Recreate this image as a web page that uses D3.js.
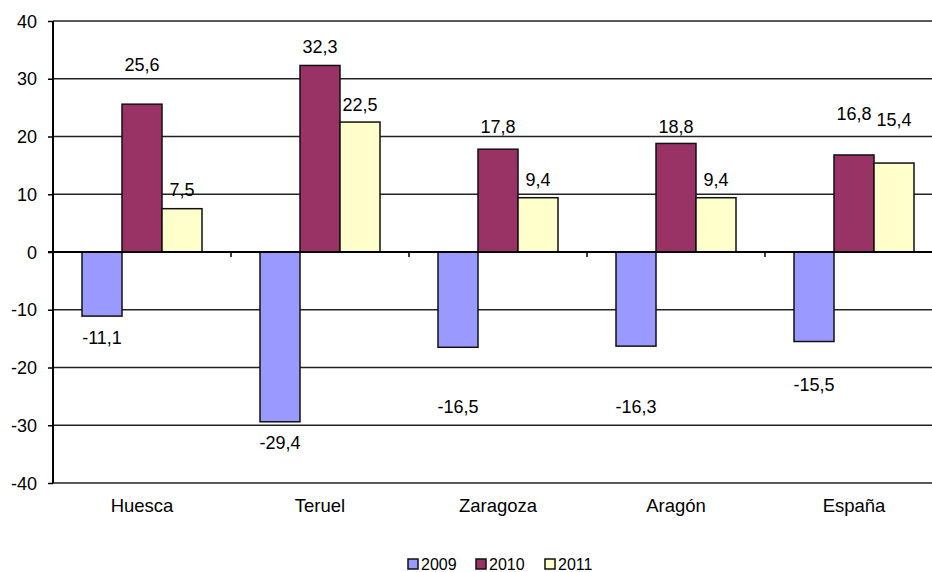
<!DOCTYPE html>
<html>
<head>
<meta charset="utf-8">
<script src="https://cdn.jsdelivr.net/npm/d3@7"></script>
<style>
  body { margin: 0; background: #fff; }
  svg text { font-family: "Liberation Sans", Arial, sans-serif; fill: #000; }
</style>
</head>
<body>
<svg id="chart" width="932" height="572"></svg>
<script>
const categories = ["Huesca", "Teruel", "Zaragoza", "Aragón", "España"];
const seriesNames = ["2009", "2010", "2011"];
const values2009 = [-11.1, -29.4, -16.5, -16.3, -15.5];
const values2010 = [25.6, 32.3, 17.8, 18.8, 16.8];
const values2011 = [7.5, 22.5, 9.4, 9.4, 15.4];
const yTicks = [-40, -30, -20, -10, 0, 10, 20, 30, 40];
const colors = ["#9999FF", "#993366", "#FFFFCC"];

// label nudges (px from bar end), as placed in the original
const labelDy = [
  [21, 21, 59, 60, 43],
  [-40, -19, -23, -17, -41],
  [-19, -18, -18, -18, -44]
];

const series = [values2009, values2010, values2011];

const margin = { top: 21, left: 53 };
const width = 890;
const height = 462;

const fmt = d3.formatLocale({ decimal: ",", thousands: ".", grouping: [3], currency: ["", "€"], minus: "-" }).format(".1f");

const svg = d3.select("#chart");
const g = svg.append("g").attr("transform", "translate(" + margin.left + "," + margin.top + ")");

const y = d3.scaleLinear().domain([-40, 40]).range([height, 0]);
const x0 = d3.scaleBand().domain(categories).range([0, width]).paddingInner(0).paddingOuter(0);
const x1 = d3.scaleBand().domain(seriesNames).range([29, x0.bandwidth() - 29]);

// gridlines
g.selectAll("line.grid")
  .data(yTicks.filter(t => t !== 0))
  .enter().append("line")
  .attr("x1", 0).attr("x2", width)
  .attr("y1", d => y(d)).attr("y2", d => y(d))
  .attr("stroke", "#222").attr("stroke-width", 1.4);

// y axis
const yAxis = g.append("g")
  .call(d3.axisLeft(y).tickValues(yTicks).tickSize(5).tickPadding(11).tickFormat(d => String(d)));
yAxis.select(".domain").attr("stroke", "#000").attr("stroke-width", 2).attr("d", "M0," + y(40) + "V" + y(-40));
yAxis.selectAll(".tick line").attr("stroke", "#000").attr("stroke-width", 1.5);
yAxis.selectAll(".tick text").attr("font-size", 18).attr("dy", "0.34em");

// bars
categories.forEach((c, i) => {
  series.forEach((vals, s) => {
    const v = vals[i];
    g.append("rect")
      .attr("x", x0(c) + x1(seriesNames[s]))
      .attr("y", y(Math.max(0, v)))
      .attr("width", x1.bandwidth())
      .attr("height", Math.abs(y(v) - y(0)))
      .attr("fill", colors[s])
      .attr("stroke", "#111")
      .attr("stroke-width", 1.5);
  });
});

// zero line and category ticks
g.append("line")
  .attr("x1", -5).attr("x2", width)
  .attr("y1", y(0)).attr("y2", y(0))
  .attr("stroke", "#000").attr("stroke-width", 2);
g.selectAll("line.ctick")
  .data(categories.slice(1))
  .enter().append("line")
  .attr("x1", d => x0(d)).attr("x2", d => x0(d))
  .attr("y1", y(0)).attr("y2", y(0) + 5)
  .attr("stroke", "#000").attr("stroke-width", 1.5);

// category labels
g.selectAll("text.cat")
  .data(categories)
  .enter().append("text")
  .attr("x", d => x0(d) + x0.bandwidth() / 2)
  .attr("y", height + 29)
  .attr("text-anchor", "middle")
  .attr("font-size", 18.5)
  .text(d => d);

// value labels
categories.forEach((c, i) => {
  series.forEach((vals, s) => {
    const v = vals[i];
    g.append("text")
      .attr("x", x0(c) + x1(seriesNames[s]) + x1.bandwidth() / 2)
      .attr("y", y(v) + labelDy[s][i])
      .attr("dy", "0.36em")
      .attr("text-anchor", "middle")
      .attr("font-size", 18)
      .text(fmt(v));
  });
});

// legend
const legend = svg.append("g").attr("transform", "translate(408,559)");
const legendX = [0, 68, 137];
seriesNames.forEach((n, s) => {
  const item = legend.append("g").attr("transform", "translate(" + legendX[s] + ",0)");
  item.append("rect")
    .attr("width", 10).attr("height", 10)
    .attr("fill", colors[s]).attr("stroke", "#111").attr("stroke-width", 1.5);
  item.append("text")
    .attr("x", 13).attr("y", 5).attr("dy", "0.36em")
    .attr("font-size", 16)
    .text(n);
});
</script>
</body>
</html>
